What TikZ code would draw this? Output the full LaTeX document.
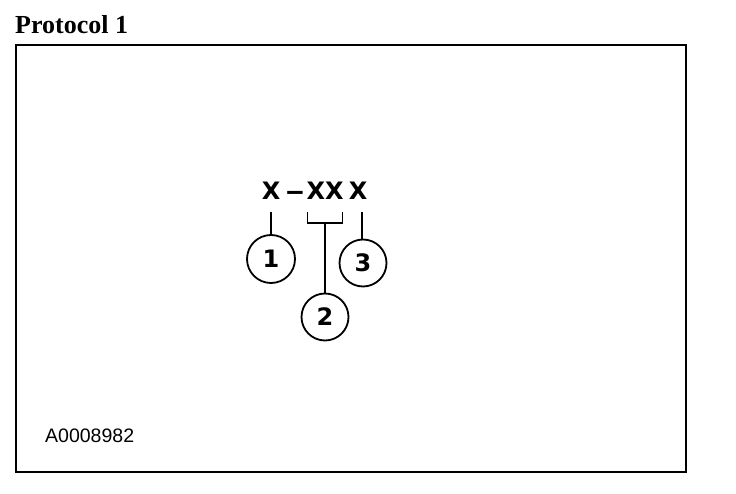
\documentclass[tikz,border=0pt]{standalone}
\usepackage{fontspec}
\setmainfont{Liberation Serif}
\setsansfont{Liberation Sans}
\newfontfamily\heavyfont{DejaVu Sans}
\usetikzlibrary{positioning, calc}

\begin{document}
\begin{tikzpicture}[x=1pt, y=-1pt,
    code/.style={anchor=base, inner sep=0pt,
                 font=\heavyfont\bfseries\fontsize{24}{24}\selectfont},
    callout/.style={circle, draw, line width=1.8pt, minimum size=47pt,
                    inner sep=0pt, font=\heavyfont\bfseries\fontsize{24}{24}\selectfont},
    lead/.style={line width=1.4pt}
  ]
    \useasboundingbox (0,0) rectangle (736,494);
    % frame and captions
    \draw[line width=2.5pt] (16,45) rectangle (686,472);
    \node[anchor=base west, inner sep=0pt, font=\bfseries\fontsize{26}{26}\selectfont]
      (title) at (15,34) {Protocol 1};
    \node[anchor=base west, inner sep=0pt, font=\sffamily\fontsize{19.5}{19.5}\selectfont]
      (figno) at (45,442) {A0008982};
    % code
    \node[code] (X1)   at (271,200) {X};
    \node[code, transform shape, xscale=0.72] (dash) at (295,200) {—};
    \node[code] (XX)   at (325,200) {XX};
    \node[code] (X3)   at (358,200) {X};
    % callouts
    \node[callout, minimum size=48pt] (c1) at (271,259) {1};
    \node[callout] (c2) at (325,317) {2};
    \node[callout] (c3) at (363,263) {3};
    \draw[lead] ([yshift=-12pt]X1.south) -- (c1.north);
    \draw[lead] ([xshift=1pt,yshift=-12pt]XX.south west) |- ([yshift=-23pt]XX.south)
      -| ([xshift=-1pt,yshift=-12pt]XX.south east);
    \draw[lead] ([yshift=-23pt]XX.south) -- (c2.north);
    \draw[lead] ([xshift=4pt,yshift=-12pt]X3.south) -- ([xshift=4pt]X3.south |- c3.north);
\end{tikzpicture}
\end{document}
